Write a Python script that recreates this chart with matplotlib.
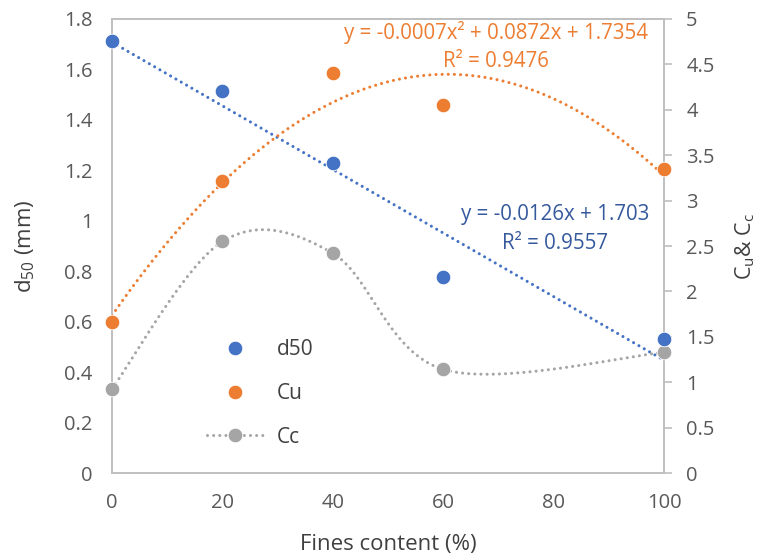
import numpy as np
import matplotlib
matplotlib.use("Agg")
import matplotlib.pyplot as plt
from matplotlib.lines import Line2D
from matplotlib.ticker import FuncFormatter

plt.rcParams['font.family'] = ['Open Sans', 'DejaVu Sans']
plt.rcParams['mathtext.default'] = 'regular'

# data
fines = [0, 20, 40, 60, 100]
d50 = [1.714, 1.515, 1.230, 0.777, 0.530]
cu = [1.66, 3.216, 4.41, 4.05, 3.345]
cc = [0.929, 2.55, 2.42, 1.142, 1.329]

blue = '#4472C4'
orange = '#ED7D31'
gray = '#A5A5A5'
spine_c = '#BFBFBF'
tick_c = '#595959'
dot = (0, (0.01, 2.0))

fig = plt.figure(figsize=(7.58, 5.56), dpi=100)
ax1 = fig.add_axes([0.1478, 0.149, 0.7282, 0.817])
ax2 = ax1.twinx()

ax1.set_xlim(0, 100)
ax1.set_ylim(0, 1.8)
ax2.set_ylim(0, 5)
ax1.set_xticks(np.arange(0, 101, 20))
ax1.set_yticks(np.arange(0, 1.81, 0.2))
ax2.set_yticks(np.arange(0, 5.01, 0.5))
fmt = FuncFormatter(lambda v, p: '%g' % round(v, 2))
ax1.yaxis.set_major_formatter(fmt)
ax2.yaxis.set_major_formatter(fmt)

for ax in (ax1, ax2):
    for s in ax.spines.values():
        s.set_color(spine_c)
        s.set_linewidth(1.2)
ax1.tick_params(axis='y', length=0, labelsize=14.5, labelcolor=tick_c, pad=14)
ax1.tick_params(axis='x', length=0, labelsize=14.5, labelcolor=tick_c, pad=14)
ax2.tick_params(axis='y', length=6, width=1.2, color=spine_c, labelsize=14.5,
                labelcolor=tick_c, pad=10)

# trend lines
xx = np.linspace(0, 100, 200)
p1 = np.polyfit(fines, d50, 1)
ax1.plot(xx, np.polyval(p1, xx), color=blue, lw=2.2, ls=dot,
         dash_capstyle='round', zorder=3)
p2 = np.polyfit(fines, cu, 2)
ax2.plot(xx, np.polyval(p2, xx), color=orange, lw=2.2, ls=dot,
         dash_capstyle='round', zorder=3)

# smoothed Cc line (bezier through points, like Excel)
fig.canvas.draw()
pts = ax2.transData.transform(np.column_stack([fines, cc]))
n = len(pts)
curve = []
for i in range(n - 1):
    p0 = pts[i - 1] if i > 0 else pts[i]
    pa = pts[i]
    pb = pts[i + 1]
    p3 = pts[i + 2] if i + 2 < n else pts[i + 1]
    c1 = pa + (pb - p0) / 6.0
    c2 = pb - (p3 - pa) / 6.0
    t = np.linspace(0, 1, 60)[:, None]
    seg = ((1 - t) ** 3) * pa + 3 * ((1 - t) ** 2) * t * c1 + 3 * (1 - t) * t ** 2 * c2 + t ** 3 * pb
    curve.append(seg if i == 0 else seg[1:])
curve = ax2.transData.inverted().transform(np.vstack(curve))
ax2.plot(curve[:, 0], curve[:, 1], color=gray, lw=2.2, ls=dot,
         dash_capstyle='round', zorder=3)

# markers
ms = 10.5
ax2.plot(fines, cu, 'o', color=orange, ms=ms, mec='white', mew=0.6, zorder=5, clip_on=False)
ax2.plot(fines, cc, 'o', color=gray, ms=ms, mec='white', mew=0.6, zorder=5, clip_on=False)
ax2.plot(fines, [v * 5 / 1.8 for v in d50], 'o', color=blue, ms=ms, mec='white',
         mew=0.6, zorder=6, clip_on=False)

# equations
ax1.text(69.5, 1.745, 'y = -0.0007x² + 0.0872x + 1.7354', color=orange,
         fontsize=14.8, ha='center', va='center')
ax1.text(69.5, 1.632, 'R² = 0.9476', color=orange, fontsize=14.8,
         ha='center', va='center')
ax1.text(80.3, 1.024, 'y = -0.0126x + 1.703', color='#35599C', fontsize=14.8,
         ha='center', va='center')
ax1.text(80.3, 0.912, 'R² = 0.9557', color='#35599C', fontsize=14.8,
         ha='center', va='center')

# legend
handles = [
    Line2D([], [], ls='none', marker='o', color=blue, ms=ms, mec='white', mew=0.6),
    Line2D([], [], ls='none', marker='o', color=orange, ms=ms, mec='white', mew=0.6),
    Line2D([], [], ls=dot, lw=2.2, dash_capstyle='round', marker='o', color=gray,
           ms=ms, mec='white', mew=0.6),
]
leg = ax1.legend(handles, ['d50', 'Cu', 'Cc'], loc='upper left',
                 bbox_to_anchor=(0.14, 0.335), frameon=False, fontsize=15,
                 labelspacing=1.1, handlelength=2.7, handletextpad=0.65,
                 borderpad=0.36)
for t in leg.get_texts():
    t.set_color('#404040')

ax1.set_xlabel('Fines content (%)', fontsize=16, color='#404040')
ax1.set_ylabel('d$_{50}$ (mm)', fontsize=16, color='#404040')
ax2.set_ylabel('C$_u$& C$_c$', fontsize=15.5, color='#404040')
ax1.xaxis.set_label_coords(0.5, -0.134)
ax1.yaxis.set_label_coords(-0.136, 0.5)
ax2.yaxis.set_label_coords(1.125, 0.5)

fig.savefig('out.png', dpi=100)
